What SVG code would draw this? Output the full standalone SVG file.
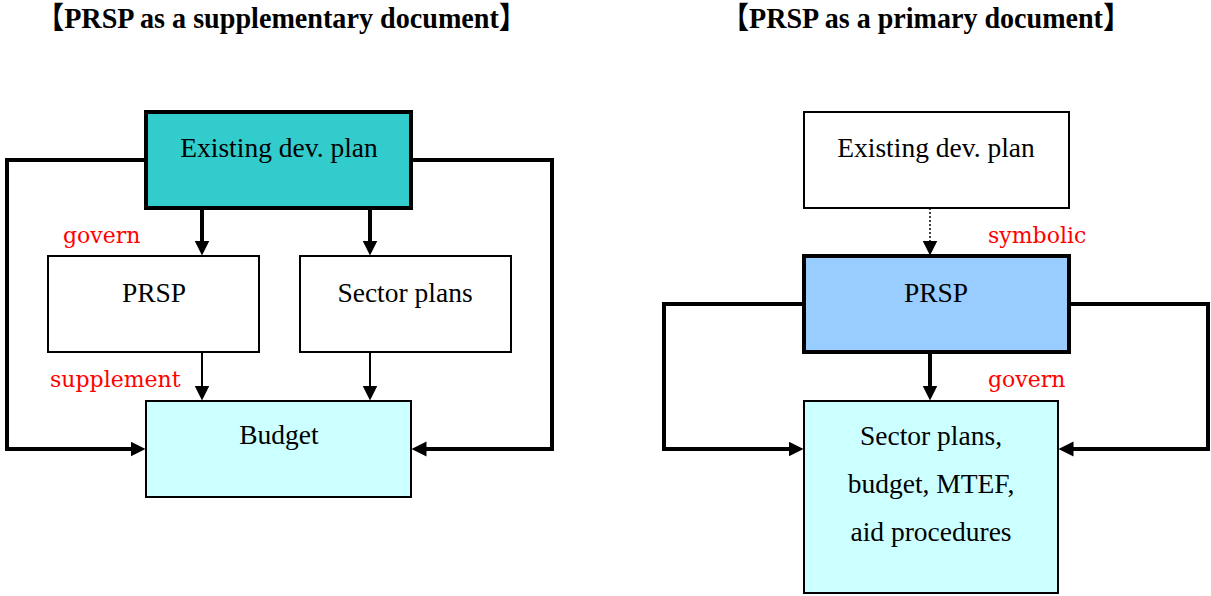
<svg xmlns="http://www.w3.org/2000/svg" width="1211" height="596" viewBox="0 0 1211 596">
  <style>
    .box { stroke: #000; stroke-width: 2; }
    .thick { stroke-width: 4; }
    .lbl { font-family: "Liberation Serif", "Times New Roman", serif; font-size: 27.5px; fill: #000; text-anchor: middle; }
    .red { font-family: "DejaVu Serif", serif; font-size: 22px; fill: #FF0000; }
    .title { font-family: "Liberation Serif", "Noto Sans CJK JP", serif; font-size: 30px; font-weight: bold; fill: #000; }
    .con { fill: none; stroke: #000; stroke-linejoin: miter; stroke-linecap: butt; }
  </style>
  <defs>
    <marker id="arr" markerUnits="userSpaceOnUse" markerWidth="16" markerHeight="16" refX="0.5" refY="7.5" orient="auto" viewBox="0 0 16 16">
      <path d="M0,0 L15,7.5 L0,15 z" fill="#000"/>
    </marker>
  </defs>
  <rect width="1211" height="596" fill="#fff"/>

  <g id="title-left">
    <text class="title" x="36" y="28" textLength="491" lengthAdjust="spacingAndGlyphs">【PRSP as a supplementary document】</text>
  </g>
  <g id="title-right">
    <text class="title" x="721" y="28" textLength="410" lengthAdjust="spacingAndGlyphs">【PRSP as a primary document】</text>
  </g>

  <g id="connectors">
    <path class="con" stroke-width="4" d="M146,160 H7 V449 H131" marker-end="url(#arr)"/>
    <path class="con" stroke-width="4" d="M411,160 H552 V449 H426" marker-end="url(#arr)"/>
    <path class="con" stroke-width="4" d="M202,208 V241" marker-end="url(#arr)"/>
    <path class="con" stroke-width="4" d="M370,208 V241" marker-end="url(#arr)"/>
    <path class="con" stroke-width="2" d="M202,352 V386" marker-end="url(#arr)"/>
    <path class="con" stroke-width="2" d="M370,352 V386" marker-end="url(#arr)"/>

    <path class="con" stroke-width="1.5" stroke-dasharray="2,2" d="M930,208 V241" marker-end="url(#arr)"/>
    <path class="con" stroke-width="4" d="M930,352 V386" marker-end="url(#arr)"/>
    <path class="con" stroke-width="4" d="M804,304 H664 V449 H789" marker-end="url(#arr)"/>
    <path class="con" stroke-width="4" d="M1069,304 H1208 V449 H1073" marker-end="url(#arr)"/>
  </g>

  <g id="left-existing">
    <rect class="box thick" x="146" y="112" width="265" height="96" fill="#33CCCC"/>
    <text class="lbl" x="279" y="157">Existing dev. plan</text>
  </g>
  <g id="left-prsp">
    <rect class="box" x="48" y="256" width="211" height="96" fill="#FFFFFF"/>
    <text class="lbl" x="154" y="302">PRSP</text>
  </g>
  <g id="left-sector">
    <rect class="box" x="300" y="256" width="211" height="96" fill="#FFFFFF"/>
    <text class="lbl" x="405" y="302">Sector plans</text>
  </g>
  <g id="left-budget">
    <rect class="box" x="146" y="401" width="265" height="96" fill="#CCFFFF"/>
    <text class="lbl" x="279" y="444">Budget</text>
  </g>

  <g id="right-existing">
    <rect class="box" x="804" y="112" width="265" height="96" fill="#FFFFFF"/>
    <text class="lbl" x="936" y="157">Existing dev. plan</text>
  </g>
  <g id="right-prsp">
    <rect class="box thick" x="804" y="256" width="265" height="96" fill="#99CCFF"/>
    <text class="lbl" x="936" y="302">PRSP</text>
  </g>
  <g id="right-sector">
    <rect class="box" x="804" y="401" width="254" height="192" fill="#CCFFFF"/>
    <text class="lbl" x="931" y="445">Sector plans,</text>
    <text class="lbl" x="931" y="493">budget, MTEF,</text>
    <text class="lbl" x="931" y="541">aid procedures</text>
  </g>

  <g id="labels">
    <text class="red" x="63" y="243">govern</text>
    <text class="red" x="50" y="387">supplement</text>
    <text class="red" x="988" y="243">symbolic</text>
    <text class="red" x="988" y="387">govern</text>
  </g>
</svg>
